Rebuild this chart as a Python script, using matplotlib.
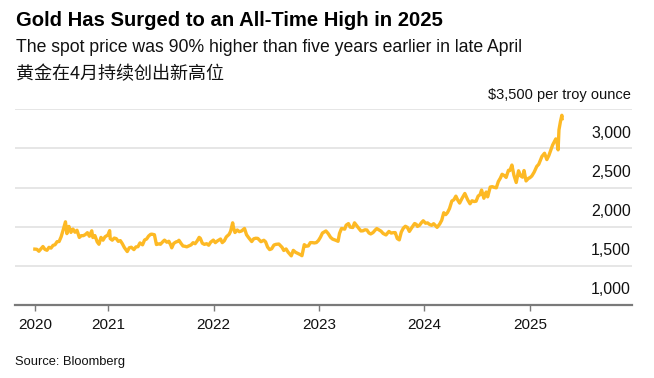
import numpy as np
import pandas as pd
import matplotlib
matplotlib.use("Agg")
import matplotlib.pyplot as plt
import matplotlib.dates as mdates
import matplotlib.transforms as mtransforms

# approximate spot gold prices (USD / troy ounce)
dates = [
    "2020-04-22", "2020-04-29", "2020-05-06", "2020-05-13", "2020-05-20", "2020-05-27",
    "2020-06-03", "2020-06-10", "2020-06-17", "2020-06-24", "2020-07-01", "2020-07-08",
    "2020-07-15", "2020-07-22", "2020-07-29", "2020-08-06", "2020-08-11", "2020-08-18",
    "2020-08-25", "2020-09-01", "2020-09-08", "2020-09-15", "2020-09-23", "2020-09-30",
    "2020-10-07", "2020-10-14", "2020-10-21", "2020-10-28", "2020-11-05", "2020-11-09",
    "2020-11-16", "2020-11-24", "2020-11-30", "2020-12-07", "2020-12-14", "2020-12-21",
    "2020-12-31",
    "2021-01-06", "2021-01-08", "2021-01-15", "2021-01-22", "2021-01-29", "2021-02-05",
    "2021-02-12", "2021-02-19", "2021-02-26", "2021-03-08", "2021-03-15", "2021-03-22",
    "2021-03-31", "2021-04-07", "2021-04-14", "2021-04-21", "2021-04-30", "2021-05-07",
    "2021-05-14", "2021-05-21", "2021-05-28", "2021-06-01", "2021-06-10", "2021-06-17",
    "2021-06-25", "2021-07-01", "2021-07-09", "2021-07-15", "2021-07-23", "2021-07-30",
    "2021-08-06", "2021-08-09", "2021-08-16", "2021-08-24", "2021-08-31", "2021-09-03",
    "2021-09-10", "2021-09-17", "2021-09-24", "2021-09-30", "2021-10-08", "2021-10-15",
    "2021-10-22", "2021-10-29", "2021-11-05", "2021-11-12", "2021-11-16", "2021-11-23",
    "2021-11-30", "2021-12-08", "2021-12-15", "2021-12-22", "2021-12-31",
    "2022-01-07", "2022-01-14", "2022-01-25", "2022-01-31", "2022-02-07", "2022-02-14",
    "2022-02-24", "2022-03-01", "2022-03-08", "2022-03-11", "2022-03-16", "2022-03-24",
    "2022-03-31", "2022-04-08", "2022-04-18", "2022-04-25", "2022-05-02", "2022-05-13",
    "2022-05-20", "2022-05-27", "2022-06-03", "2022-06-14", "2022-06-24", "2022-06-30",
    "2022-07-07", "2022-07-14", "2022-07-21", "2022-07-29", "2022-08-05", "2022-08-15",
    "2022-08-26", "2022-09-01", "2022-09-09", "2022-09-16", "2022-09-27", "2022-10-04",
    "2022-10-12", "2022-10-21", "2022-10-28", "2022-11-03", "2022-11-11", "2022-11-18",
    "2022-11-25", "2022-12-02", "2022-12-09", "2022-12-16", "2022-12-23", "2022-12-30",
    "2023-01-06", "2023-01-13", "2023-01-25", "2023-02-02", "2023-02-10", "2023-02-17",
    "2023-02-28", "2023-03-08", "2023-03-13", "2023-03-20", "2023-03-31", "2023-04-05",
    "2023-04-13", "2023-04-19", "2023-04-28", "2023-05-04", "2023-05-12", "2023-05-19",
    "2023-05-26", "2023-06-02", "2023-06-09", "2023-06-16", "2023-06-23", "2023-06-29",
    "2023-07-07", "2023-07-14", "2023-07-20", "2023-07-28", "2023-08-04", "2023-08-11",
    "2023-08-21", "2023-08-31", "2023-09-08", "2023-09-15", "2023-09-22", "2023-09-29",
    "2023-10-06", "2023-10-13", "2023-10-20", "2023-10-27", "2023-11-03", "2023-11-10",
    "2023-11-17", "2023-11-28", "2023-12-04", "2023-12-08", "2023-12-15", "2023-12-22",
    "2023-12-28",
    "2024-01-05", "2024-01-12", "2024-01-19", "2024-01-26", "2024-02-02", "2024-02-14",
    "2024-02-23", "2024-03-01", "2024-03-08", "2024-03-15", "2024-03-21", "2024-03-28",
    "2024-04-05", "2024-04-12", "2024-04-19", "2024-04-26", "2024-05-02", "2024-05-10",
    "2024-05-20", "2024-05-30", "2024-06-07", "2024-06-14", "2024-06-21", "2024-06-28",
    "2024-07-05", "2024-07-12", "2024-07-17", "2024-07-25", "2024-08-02", "2024-08-07",
    "2024-08-16", "2024-08-23", "2024-08-30", "2024-09-06", "2024-09-13", "2024-09-20",
    "2024-09-26", "2024-10-04", "2024-10-10", "2024-10-18", "2024-10-23", "2024-10-30",
    "2024-11-06", "2024-11-14", "2024-11-22", "2024-11-29", "2024-12-06", "2024-12-11",
    "2024-12-18", "2024-12-27", "2024-12-31",
    "2025-01-07", "2025-01-15", "2025-01-24", "2025-01-31", "2025-02-07", "2025-02-11",
    "2025-02-20", "2025-02-28", "2025-03-07", "2025-03-14", "2025-03-20", "2025-03-31",
    "2025-04-03", "2025-04-08", "2025-04-11", "2025-04-16", "2025-04-21", "2025-04-22",
]
prices = [
    1714, 1712, 1687, 1716, 1747, 1710,
    1699, 1737, 1727, 1762, 1770, 1809,
    1811, 1871, 1958, 2063, 1912, 2004,
    1928, 1970, 1930, 1955, 1863, 1886,
    1886, 1900, 1924, 1878, 1948, 1862,
    1887, 1806, 1776, 1864, 1828, 1871,
    1895,
    1950, 1849, 1828, 1855, 1848, 1813,
    1823, 1783, 1734, 1683, 1731, 1738,
    1708, 1742, 1745, 1793, 1769, 1831,
    1843, 1881, 1903, 1905, 1898, 1773,
    1781, 1776, 1808, 1829, 1802, 1814,
    1763, 1731, 1787, 1806, 1813, 1827,
    1788, 1754, 1750, 1743, 1757, 1768,
    1796, 1783, 1818, 1864, 1852, 1789,
    1775, 1783, 1764, 1803, 1829,
    1797, 1818, 1843, 1797, 1820, 1870,
    1904, 1943, 2050, 1988, 1926, 1958,
    1937, 1946, 1978, 1898, 1862, 1811,
    1846, 1853, 1851, 1809, 1827, 1807,
    1740, 1708, 1718, 1766, 1775, 1779,
    1737, 1697, 1716, 1675, 1628, 1698,
    1673, 1657, 1644, 1630, 1771, 1751,
    1755, 1797, 1797, 1793, 1798, 1824,
    1866, 1920, 1946, 1912, 1865, 1842,
    1827, 1814, 1914, 1978, 1969, 2020,
    2040, 1995, 1990, 2050, 2011, 1978,
    1946, 1948, 1961, 1958, 1920, 1908,
    1925, 1955, 1977, 1959, 1943, 1914,
    1895, 1940, 1919, 1924, 1925, 1849,
    1832, 1932, 1981, 2006, 1992, 1940,
    1981, 2041, 2030, 2004, 2019, 2053,
    2076,
    2045, 2049, 2029, 2018, 2039, 1992,
    2035, 2083, 2179, 2155, 2181, 2233,
    2329, 2344, 2391, 2337, 2302, 2360,
    2425, 2343, 2293, 2332, 2322, 2326,
    2391, 2411, 2469, 2364, 2443, 2382,
    2507, 2512, 2503, 2497, 2577, 2621,
    2670, 2653, 2630, 2721, 2718, 2788,
    2658, 2565, 2715, 2650, 2633, 2718,
    2585, 2621, 2625,
    2648, 2697, 2770, 2798, 2861, 2898,
    2939, 2858, 2910, 2984, 3044, 3122,
    3112, 2982, 3237, 3342, 3424, 3381,
]

y_ticks = [1000, 1500, 2000, 2500, 3000, 3500]
y_labels = ["1,000", "1,500", "2,000", "2,500", "3,000", "$3,500 per troy ounce"]
x_ticks = ["2020-04-22", "2021-01-01", "2022-01-01", "2023-01-01", "2024-01-01", "2025-01-01"]
x_labels = ["2020", "2021", "2022", "2023", "2024", "2025"]

GOLD = "#FDB924"
GRID = "#e2e2e2"
AXIS = "#7a7a7a"

plt.rcParams["font.family"] = ["Liberation Sans", "DejaVu Sans"]

fig = plt.figure(figsize=(6.54, 3.78), dpi=100)
ax = fig.add_axes([0.0237, 0.1931, 0.9427, 0.5177])

x = pd.to_datetime(dates)
ax.plot(x, prices, color=GOLD, lw=2.4, solid_joinstyle="round", zorder=3)

ax.set_xlim(pd.Timestamp("2020-02-15"), pd.Timestamp("2025-12-20"))
ax.set_ylim(1000, 3500)

ax.set_xticks(pd.to_datetime(x_ticks))
ax.set_xticklabels(x_labels, fontsize=11, color="#111111")
ax.tick_params(axis="x", length=4.5, width=1, color=AXIS, pad=5)

ax.set_yticks(y_ticks)
ax.set_yticklabels([])
ax.tick_params(axis="y", length=0)
ax.yaxis.grid(True, color=GRID, lw=1.2)
ax.set_axisbelow(True)

for s in ["top", "left", "right"]:
    ax.spines[s].set_visible(False)
ax.spines["bottom"].set_color(AXIS)
ax.spines["bottom"].set_linewidth(1.6)
ax.spines["bottom"].set_zorder(4)

trans = mtransforms.blended_transform_factory(ax.transAxes, ax.transData)
for v, lab in zip(y_ticks, y_labels):
    size = 10.5 if lab.startswith("$") else 11.5
    ax.annotate(lab, xy=(0.9985, v), xycoords=trans, xytext=(0, 5.5),
                textcoords="offset points", ha="right", va="bottom",
                fontsize=size, color="#111111")

fig.text(0.0245, 0.945, "Gold Has Surged to an All-Time High in 2025",
         fontsize=14.6, fontweight="bold", color="#000000", va="center")
fig.text(0.0245, 0.874, "The spot price was 90% higher than five years earlier in late April",
         fontsize=12.7, color="#111111", va="center")
fig.text(0.0245, 0.805, "黄金在4月持续创出新高位",
         fontsize=13, color="#111111", va="center",
         family=["Noto Sans CJK SC", "DejaVu Sans"])
fig.text(0.0235, 0.042, "Source: Bloomberg", fontsize=9.3, color="#111111", va="center")

fig.savefig("out.png", dpi=100)
